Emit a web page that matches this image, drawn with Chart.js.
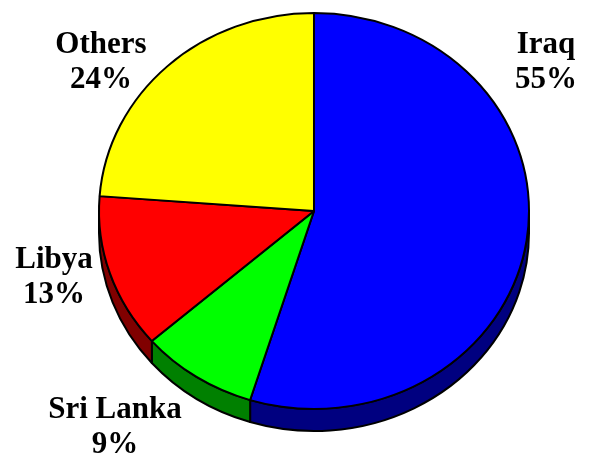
<!DOCTYPE html>
<html>
<head>
<meta charset="utf-8">
<script src="https://cdn.jsdelivr.net/npm/chart.js@4/dist/chart.umd.min.js"></script>
<style>
html,body{margin:0;padding:0;background:#fff;}
#c{display:block;}
</style>
</head>
<body>
<canvas id="c" width="591" height="455"></canvas>
<script>
// ---- data ----
const categories = ["Iraq", "Sri Lanka", "Libya", "Others"];
const shares = [54.8, 8.8, 12.6, 23.8];
const topColors = ["#0000FF", "#00FF00", "#FF0000", "#FFFF00"];
const sideColors = ["#000080", "#008000", "#800000", "#808000"];
// label anchor (center x, first baseline y)
const labelAnchors = [[546, 53], [115, 418], [54, 268], [101, 53]];

// ---- layout of the tilted pie ----
const geom = { cx: 314, cy: 211, rx: 215, ry: 198, depth: 22 };

const tiltPlugin = {
  id: 'tilt',
  beforeDatasetsDraw(chart) {
    const ctx = chart.ctx;
    const meta = chart.getDatasetMeta(0);
    const a0 = meta.data[0];
    const R = a0.outerRadius;
    const {cx, cy, rx, ry, depth} = geom;
    ctx.save();
    ctx.lineWidth = 2;
    ctx.strokeStyle = '#000';
    ctx.lineJoin = 'round';
    meta.data.forEach((arc, i) => {
      const a = Math.max(arc.startAngle, 0);
      const b = Math.min(arc.endAngle, Math.PI);
      if (b <= a) return;
      ctx.beginPath();
      ctx.ellipse(cx, cy, rx, ry, 0, a, b, false);
      ctx.lineTo(cx + rx * Math.cos(b), cy + depth + ry * Math.sin(b));
      ctx.ellipse(cx, cy + depth, rx, ry, 0, b, a, true);
      ctx.closePath();
      ctx.fillStyle = sideColors[i];
      ctx.fill();
      ctx.stroke();
    });
    ctx.restore();
    ctx.save();
    ctx.translate(cx, cy);
    ctx.scale(rx / R, ry / R);
    ctx.translate(-a0.x, -a0.y);
  },
  afterDatasetsDraw(chart) {
    chart.ctx.restore();
  },
  afterDraw(chart) {
    const ctx = chart.ctx;
    const total = shares.reduce((s, v) => s + v, 0);
    ctx.save();
    ctx.fillStyle = '#000';
    ctx.font = 'bold 31px "Liberation Serif", "Times New Roman", serif';
    ctx.textAlign = 'center';
    ctx.textBaseline = 'alphabetic';
    categories.forEach((name, i) => {
      const [x, y] = labelAnchors[i];
      ctx.fillText(name, x, y);
      ctx.fillText(Math.round(shares[i] / total * 100) + '%', x, y + 35);
    });
    ctx.restore();
  }
};

new Chart(document.getElementById('c'), {
  type: 'pie',
  data: {
    labels: categories,
    datasets: [{
      data: shares,
      backgroundColor: topColors,
      borderColor: '#000',
      borderWidth: 2,
      hoverOffset: 0
    }]
  },
  options: {
    responsive: false,
    devicePixelRatio: 1,
    animation: false,
    layout: { padding: { top: 12, bottom: 13 } },
    plugins: { legend: { display: false }, tooltip: { enabled: false } }
  },
  plugins: [tiltPlugin]
});
</script>
</body>
</html>
